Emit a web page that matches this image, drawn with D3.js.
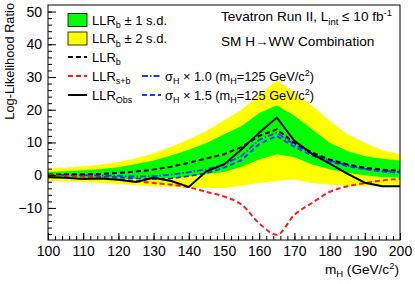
<!DOCTYPE html>
<html>
<head>
<meta charset="utf-8">
<script src="https://cdn.jsdelivr.net/npm/d3@7"></script>
<style>
  body { margin: 0; background: white; }
  text { font-family: "Liberation Sans", Arial, sans-serif; }
</style>
</head>
<body>
<div id="chart"></div>
<script>
let w = 415;
let h = 284;

// Higgs masses (GeV/c^2)
let mass = [100, 105, 110, 115, 120, 125, 130, 135, 140, 145, 150, 155, 160, 165, 170, 175, 180, 185, 190, 195, 200];

// bands around LLR_b
let yellowHi = [2.0, 2.3, 2.7, 3.2, 4.0, 5.2, 6.7, 8.6, 11.0, 13.5, 16.8, 20.0, 24.5, 28.9, 25.3, 21.2, 16.6, 12.5, 9.9, 7.6, 6.4];
let greenHi = [1.0, 1.2, 1.5, 1.9, 2.4, 3.4, 4.5, 6.0, 7.8, 9.8, 12.5, 15.0, 19.0, 21.4, 18.2, 14.0, 9.9, 7.4, 5.8, 5.0, 4.5];
let greenLo = [-0.8, -0.9, -1.0, -1.1, -1.2, -1.2, -1.1, -0.9, -0.3, 0.4, 1.0, 2.6, 4.8, 6.4, 5.5, 3.3, 1.8, 0.7, 0.0, -0.6, -0.8];
let yellowLo = [-1.7, -1.9, -2.1, -2.4, -2.7, -3.1, -3.4, -3.6, -3.8, -3.9, -3.9, -3.2, -2.4, -1.8, -1.3, -2.4, -2.9, -3.2, -3.4, -3.4, -3.4];

// LLR curves
let llrB = [0.2, 0.25, 0.3, 0.4, 0.7, 1.1, 1.7, 2.6, 3.8, 5.1, 6.4, 8.6, 12.0, 14.0, 9.9, 6.9, 4.8, 3.3, 2.3, 1.7, 1.4];
let llrSB = [0.0, -0.2, -0.5, -0.8, -1.2, -1.8, -2.4, -2.9, -3.7, -5.1, -6.5, -9.0, -14.7, -18.2, -12.1, -8.5, -5.1, -3.4, -2.4, -1.6, -1.1];
let llrObs = [-0.6, -0.8, -1.2, -1.0, -1.4, -2.1, -0.8, -1.8, -3.6, 1.2, 3.3, 7.9, 13.0, 17.6, 10.5, 6.5, 3.5, 0.5, -2.3, -3.4, -3.4];
let sig10 = [0.1, 0.05, 0.0, -0.1, -0.2, -0.4, -0.3, 0.2, 0.9, 1.8, 3.3, 5.9, 10.8, 13.0, 9.3, 6.5, 4.5, 3.0, 2.0, 1.3, 1.0];
let sig15 = [0.0, -0.1, -0.2, -0.4, -0.6, -1.0, -1.2, -1.0, -0.3, 0.6, 2.3, 4.6, 9.5, 12.0, 8.6, 6.0, 4.2, 2.8, 1.8, 1.1, 0.8];

let xTicks = [100, 110, 120, 130, 140, 150, 160, 170, 180, 190, 200];
let yTicks = [-10, 0, 10, 20, 30, 40, 50];

let viz = d3.select("#chart")
  .append("svg")
  .attr("width", w)
  .attr("height", h)
  .style("background-color", "white");

let padL = 48, padR = 400, padT = 5, padB = 240;

let xScale = d3.scaleLinear().domain([100, 200]).range([padL, padR]);
let yScale = d3.scaleLinear().domain([-19.8, 52]).range([padB, padT]);

viz.append("clipPath").attr("id", "plotClip")
  .append("rect")
  .attr("x", padL).attr("y", padT)
  .attr("width", padR - padL).attr("height", padB - padT);

let plot = viz.append("g").attr("clip-path", "url(#plotClip)");

function band(lo, hi) {
  return d3.area()
    .x((d, i) => xScale(mass[i]))
    .y0((d, i) => yScale(lo[i]))
    .y1((d, i) => yScale(hi[i]))(mass);
}

plot.append("path").attr("d", band(yellowLo, yellowHi)).attr("fill", "#ffff00");
plot.append("path").attr("d", band(greenLo, greenHi)).attr("fill", "#00ff00");

let line = (vals, curve) => d3.line()
  .curve(curve || d3.curveLinear)
  .x((d, i) => xScale(mass[i]))
  .y((d, i) => yScale(vals[i]))(mass);

let curves = [
  { vals: sig10, color: "#1438ff", dash: "6,2,1.5,2", width: 1.8 },
  { vals: sig15, color: "#1438ff", dash: "5,3", width: 1.8 },
  { vals: llrB, color: "black", dash: "5,3", width: 2 },
  { vals: llrSB, color: "#ff1a1a", dash: "5,3", width: 2, curve: d3.curveMonotoneX },
  { vals: llrObs, color: "black", dash: null, width: 2 }
];

curves.forEach(c => {
  plot.append("path")
    .attr("d", line(c.vals, c.curve))
    .attr("fill", "none")
    .attr("stroke", c.color)
    .attr("stroke-width", c.width)
    .attr("stroke-dasharray", c.dash);
});

// axes, ticks inside the frame
let xMinor = d3.range(100, 201, 2);
let yMinor = d3.range(-18, 52, 2);

viz.append("g")
  .attr("transform", "translate(0," + padB + ")")
  .call(d3.axisBottom(xScale).tickValues(xMinor).tickSize(-4).tickFormat(""))
  .call(g => g.select(".domain").remove());
let xAxis = viz.append("g")
  .attr("transform", "translate(0," + padB + ")")
  .call(d3.axisBottom(xScale).tickValues(xTicks).tickSizeInner(-7).tickSizeOuter(0).tickPadding(6).tickFormat(d3.format("d")));
xAxis.select(".domain").remove();
xAxis.selectAll("text").attr("font-size", 14).attr("fill", "black")
  .attr("font-family", "Liberation Sans, Arial, sans-serif");

viz.append("g")
  .attr("transform", "translate(" + padL + ",0)")
  .call(d3.axisLeft(yScale).tickValues(yMinor).tickSize(-4).tickFormat(""))
  .call(g => g.select(".domain").remove());
let yAxis = viz.append("g")
  .attr("transform", "translate(" + padL + ",0)")
  .call(d3.axisLeft(yScale).tickValues(yTicks).tickSizeInner(-8).tickSizeOuter(0).tickPadding(6).tickFormat(d3.format("d")));
yAxis.select(".domain").remove();
yAxis.selectAll("text").attr("font-size", 14).attr("fill", "black")
  .attr("font-family", "Liberation Sans, Arial, sans-serif");

viz.append("rect")
  .attr("x", padL).attr("y", padT)
  .attr("width", padR - padL).attr("height", padB - padT)
  .attr("fill", "none").attr("stroke", "black").attr("stroke-width", 1);

// axis titles
viz.append("text")
  .attr("transform", "translate(14,3) rotate(-90)")
  .attr("text-anchor", "end")
  .attr("font-size", 12.8)
  .text("Log-Likelihood Ratio");

let xt = viz.append("text")
  .attr("x", 399).attr("y", 274)
  .attr("text-anchor", "end")
  .attr("font-size", 13.6);
xt.append("tspan").text("m");
xt.append("tspan").attr("font-size", 9.5).attr("dy", 3).text("H");
xt.append("tspan").attr("dy", -3).text(" (GeV/c");
xt.append("tspan").attr("font-size", 9.5).attr("dy", -5).text("2");
xt.append("tspan").attr("dy", 5).text(")");

// legend
let rows = [20, 38.5, 57, 76, 95];
let legend = viz.append("g");

function subLabel(g, x, y, main, sub, rest) {
  let t = g.append("text").attr("x", x).attr("y", y + 4.5).attr("font-size", 13);
  t.append("tspan").text(main);
  t.append("tspan").attr("font-size", 9).attr("dy", 3.5).text(sub);
  t.append("tspan").attr("dy", -3.5).text(rest);
  return t;
}

legend.append("rect").attr("x", 68).attr("y", rows[0] - 6.5).attr("width", 19).attr("height", 13)
  .attr("fill", "#00ff00").attr("stroke", "black").attr("stroke-width", 0.8);
legend.append("rect").attr("x", 68).attr("y", rows[1] - 6.5).attr("width", 19).attr("height", 13)
  .attr("fill", "#ffff00").attr("stroke", "black").attr("stroke-width", 0.8);
subLabel(legend, 92, rows[0], "LLR", "b", "  \u00b1 1 s.d.");
subLabel(legend, 92, rows[1], "LLR", "b", "  \u00b1 2 s.d.");

let legLines = [
  { x: 68, row: 2, color: "black", dash: "5,3" },
  { x: 68, row: 3, color: "#ff1a1a", dash: "5,3" },
  { x: 68, row: 4, color: "black", dash: null },
  { x: 142, row: 3, color: "#1438ff", dash: "6,2,1.5,2" },
  { x: 142, row: 4, color: "#1438ff", dash: "5,3" }
];
legLines.forEach(l => {
  legend.append("line")
    .attr("x1", l.x).attr("x2", l.x + 19)
    .attr("y1", rows[l.row]).attr("y2", rows[l.row])
    .attr("stroke", l.color).attr("stroke-width", 2)
    .attr("stroke-dasharray", l.dash);
});
subLabel(legend, 92, rows[2], "LLR", "b", "");
subLabel(legend, 92, rows[3], "LLR", "s+b", "");
subLabel(legend, 92, rows[4], "LLR", "Obs", "");

function sigLabel(y, f) {
  let t = legend.append("text").attr("x", 165).attr("y", y + 4.5).attr("font-size", 12.8);
  t.append("tspan").text("\u03c3");
  t.append("tspan").attr("font-size", 9).attr("dy", 3.5).text("H");
  t.append("tspan").attr("dy", -3.5).text(" \u00d7 " + f + " (m");
  t.append("tspan").attr("font-size", 9).attr("dy", 3.5).text("H");
  t.append("tspan").attr("dy", -3.5).text("=125 GeV/c");
  t.append("tspan").attr("font-size", 9).attr("dy", -5).text("2");
  t.append("tspan").attr("dy", 5).text(")");
}
sigLabel(rows[3], "1.0");
sigLabel(rows[4], "1.5");

// header text
let t1 = viz.append("text").attr("x", 221).attr("y", 21).attr("font-size", 13.6);
t1.append("tspan").text("Tevatron Run II, L");
t1.append("tspan").attr("font-size", 9.5).attr("dy", 3.5).text("int");
t1.append("tspan").attr("dy", -3.5).text(" \u2264 10 fb");
t1.append("tspan").attr("font-size", 9.5).attr("dy", -5).text("-1");

viz.append("text").attr("x", 221).attr("y", 46).attr("font-size", 13.6)
  .text("SM H\u2192WW Combination");
</script>
</body>
</html>
